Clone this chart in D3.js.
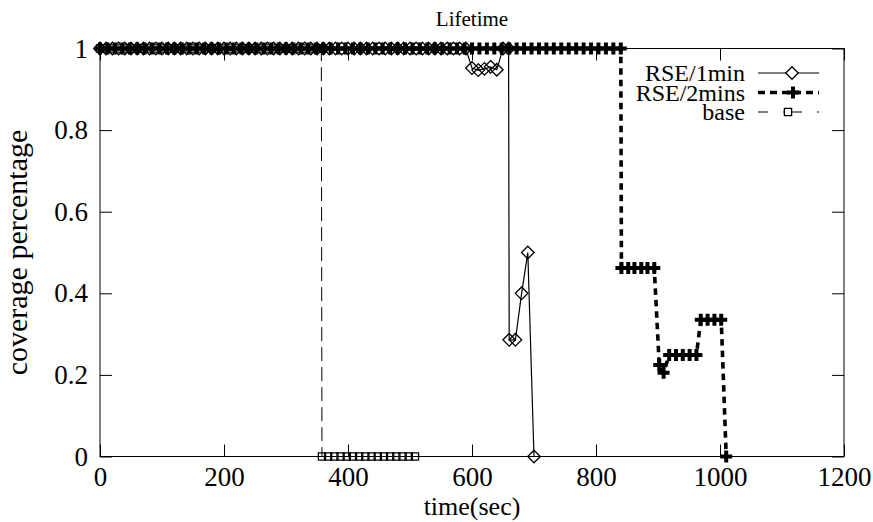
<!DOCTYPE html>
<html>
<head>
<meta charset="utf-8">
<script src="https://cdn.jsdelivr.net/npm/d3@7"></script>
<style>
  body { margin: 0; background: #fff; }
  text { font-family: "Liberation Serif", "Times New Roman", serif; fill: #000; }
</style>
</head>
<body>
<svg width="873" height="522"></svg>
<script>
// values
var xTicks = [0, 200, 400, 600, 800, 1000, 1200];
var yTicks = [0, 0.2, 0.4, 0.6, 0.8, 1];

var rse1Time = [0, 10, 20, 30, 40, 50, 60, 70, 80, 90, 100, 110, 120, 130, 140, 150, 160, 170, 180, 190,
  200, 210, 220, 230, 240, 250, 260, 270, 280, 290, 300, 310, 320, 330, 340, 350, 360, 370, 380, 390,
  400, 410, 420, 430, 440, 450, 460, 470, 480, 490, 500, 510, 520, 530, 540, 550, 560, 570, 580, 590,
  600, 610, 620, 630, 640, 650, 659, 660, 670, 680, 690, 700];
var rse1Value = [1, 1, 1, 1, 1, 1, 1, 1, 1, 1, 1, 1, 1, 1, 1, 1, 1, 1, 1, 1,
  1, 1, 1, 1, 1, 1, 1, 1, 1, 1, 1, 1, 1, 1, 1, 1, 1, 1, 1, 1,
  1, 1, 1, 1, 1, 1, 1, 1, 1, 1, 1, 1, 1, 1, 1, 1, 1, 1, 1, 1,
  0.952, 0.947, 0.95, 0.955, 0.948, 1, 1, 0.286, 0.286, 0.4, 0.5, 0];

var rse2Time = [0, 12, 24, 36, 48, 60, 72, 84, 96, 108, 120, 132, 144, 156, 168, 180, 192, 204, 216, 228,
  240, 252, 264, 276, 288, 300, 312, 324, 336, 348, 360, 372, 384, 396, 408, 420, 432, 444, 456, 468,
  480, 492, 504, 516, 528, 540, 552, 564, 576, 588, 600, 612, 624, 636, 648, 660, 672, 684, 696, 708,
  720, 732, 744, 756, 768, 780, 792, 804, 816, 828, 840,
  841, 852, 862, 873, 883, 894, 902, 909, 918, 929, 940, 951, 962, 969, 980, 991, 1002, 1010];
var rse2Value = [1, 1, 1, 1, 1, 1, 1, 1, 1, 1, 1, 1, 1, 1, 1, 1, 1, 1, 1, 1,
  1, 1, 1, 1, 1, 1, 1, 1, 1, 1, 1, 1, 1, 1, 1, 1, 1, 1, 1, 1,
  1, 1, 1, 1, 1, 1, 1, 1, 1, 1, 1, 1, 1, 1, 1, 1, 1, 1, 1, 1,
  1, 1, 1, 1, 1, 1, 1, 1, 1, 1, 1,
  0.462, 0.462, 0.462, 0.462, 0.462, 0.462, 0.224, 0.205, 0.249, 0.249, 0.249, 0.249, 0.249,
  0.335, 0.335, 0.335, 0.335, 0];

var baseTime = [0, 10, 20, 30, 40, 50, 60, 70, 80, 90, 100, 110, 120, 130, 140, 150, 160, 170, 180, 190,
  200, 210, 220, 230, 240, 250, 260, 270, 280, 290, 300, 310, 320, 330, 340, 350, 357,
  358, 368, 378, 388, 398, 408, 418, 428, 438, 448, 458, 468, 478, 488, 498, 508];
var baseValue = [1, 1, 1, 1, 1, 1, 1, 1, 1, 1, 1, 1, 1, 1, 1, 1, 1, 1, 1, 1,
  1, 1, 1, 1, 1, 1, 1, 1, 1, 1, 1, 1, 1, 1, 1, 1, 1,
  0, 0, 0, 0, 0, 0, 0, 0, 0, 0, 0, 0, 0, 0, 0, 0];

var seriesNames = ["RSE/1min", "RSE/2mins", "base"];

var svg = d3.select("svg"),
    plotLeft = 100, plotRight = 844, plotTop = 48.5, plotBottom = 456.5,
    serif = "'Liberation Serif', 'Times New Roman', serif";

var x = d3.scaleLinear().domain([0, 1200]).range([plotLeft, plotRight]);
var y = d3.scaleLinear().domain([0, 1]).range([plotBottom, plotTop]);

function zip(ts, vs) {
  return ts.map(function(t, i) { return {t: t, v: vs[i]}; });
}

var series = [
  {name: seriesNames[0], data: zip(rse1Time, rse1Value), width: 1.2, dash: null,
    legendDash: null, marker: "diamond", keyX: 792},
  {name: seriesNames[1], data: zip(rse2Time, rse2Value), width: 3.6, dash: "6.5,5",
    legendDash: "7,5", marker: "cross", keyX: 793},
  {name: seriesNames[2], data: zip(baseTime, baseValue), width: 1, dash: "14,6",
    legendDash: "10,15,19,15,2,50", marker: "square", keyX: 788}
];

var markerPath = {
  diamond: "M0,-6.3L6.3,0L0,6.3L-6.3,0Z",
  square: "M-3.6,-3.6h7.2v7.2h-7.2Z",
  cross: d3.symbol(d3.symbolCross, 80)()
};

// axes (ticks point inward, mirrored on top/right)
svg.append("g")
  .attr("transform", "translate(0," + plotBottom + ")")
  .call(d3.axisBottom(x).tickValues(xTicks).tickSizeInner(-12).tickSizeOuter(0).tickPadding(10)
    .tickFormat(d3.format("d")));
svg.append("g")
  .attr("transform", "translate(0," + plotTop + ")")
  .call(d3.axisTop(x).tickValues(xTicks).tickSizeInner(-12).tickSizeOuter(0).tickFormat(""));
svg.append("g")
  .attr("transform", "translate(" + plotLeft + ",0)")
  .call(d3.axisLeft(y).tickValues(yTicks).tickSizeInner(-12).tickSizeOuter(0).tickPadding(12)
    .tickFormat(function(d) { return d; }));
svg.append("g")
  .attr("transform", "translate(" + plotRight + ",0)")
  .call(d3.axisRight(y).tickValues(yTicks).tickSizeInner(-12).tickSizeOuter(0).tickFormat(""));

svg.selectAll(".domain").remove();
svg.selectAll(".tick line").attr("stroke", "#000").attr("stroke-width", 1);
svg.selectAll(".tick text")
  .style("font-family", serif)
  .style("font-size", "27px")
  .attr("fill", "#000");

svg.append("rect")
  .attr("x", plotLeft).attr("y", plotTop)
  .attr("width", plotRight - plotLeft).attr("height", plotBottom - plotTop)
  .attr("fill", "none").attr("stroke", "#000").attr("stroke-width", 1);

// titles
svg.append("text")
  .attr("x", (plotLeft + plotRight) / 2).attr("y", 26)
  .attr("text-anchor", "middle")
  .style("font-family", serif)
  .style("font-size", "21px")
  .text("Lifetime");

svg.append("text")
  .attr("x", (plotLeft + plotRight) / 2).attr("y", 515)
  .attr("text-anchor", "middle")
  .style("font-family", serif)
  .style("font-size", "26px")
  .text("time(sec)");

svg.append("text")
  .attr("transform", "translate(27," + (plotTop + plotBottom) / 2 + ") rotate(-90)")
  .attr("text-anchor", "middle")
  .style("font-family", serif)
  .style("font-size", "30px")
  .text("coverage percentage");

// lines + points
var line = d3.line()
  .x(function(d) { return x(d.t); })
  .y(function(d) { return y(d.v); });

var plot = svg.append("g");

series.forEach(function(s) {
  plot.append("path")
    .datum(s.data)
    .attr("d", line)
    .attr("fill", "none")
    .attr("stroke", "#000")
    .attr("stroke-width", s.width)
    .attr("stroke-dasharray", s.dash);

  plot.selectAll(null)
    .data(s.data)
    .enter().append("path")
    .attr("transform", function(d) { return "translate(" + x(d.t) + "," + y(d.v) + ")"; })
    .attr("d", markerPath[s.marker])
    .attr("fill", s.marker == "cross" ? "#000" : "none")
    .attr("stroke", s.marker == "cross" ? "none" : "#000")
    .attr("stroke-width", 1.3);
});

// legend
var legend = svg.append("g");
series.forEach(function(s, i) {
  var ly = 73 + i * 19.5;
  legend.append("text")
    .attr("x", 745).attr("y", ly + 8)
    .attr("text-anchor", "end")
    .style("font-family", serif)
    .style("font-size", "24px")
    .text(s.name);
  legend.append("line")
    .attr("x1", 758).attr("x2", 819)
    .attr("y1", ly).attr("y2", ly)
    .attr("stroke", "#000")
    .attr("stroke-width", s.width)
    .attr("stroke-dasharray", s.legendDash);
  legend.append("path")
    .attr("transform", "translate(" + s.keyX + "," + ly + ")")
    .attr("d", markerPath[s.marker])
    .attr("fill", s.marker == "cross" ? "#000" : "#fff")
    .attr("stroke", s.marker == "cross" ? "none" : "#000")
    .attr("stroke-width", 1.3);
});
</script>
</body>
</html>
